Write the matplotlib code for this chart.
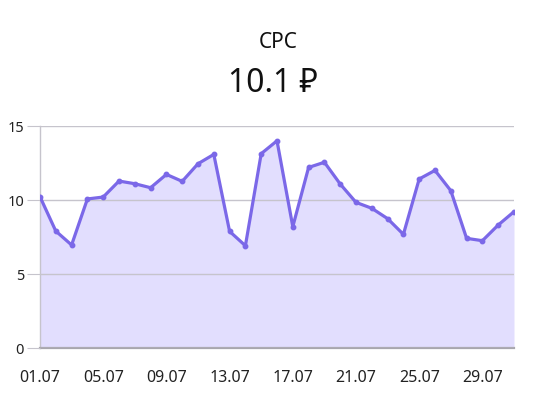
import matplotlib
matplotlib.use("Agg")
import matplotlib.pyplot as plt

days = [f"{d:02d}.07" for d in range(1, 32)]
values = [10.22, 7.9, 6.96, 10.07, 10.2, 11.28, 11.1, 10.83, 11.73, 11.26,
          12.45, 13.08, 7.88, 6.91, 13.13, 14.0, 8.2, 12.2, 12.55, 11.08,
          9.84, 9.44, 8.74, 7.68, 11.42, 12.0, 10.63, 7.41, 7.25, 8.31, 9.21]
yticks = [0, 5, 10, 15]
title = "CPC"
subtitle = "10.1 ₽"

plt.rcParams['font.family'] = ['Noto Sans', 'DejaVu Sans']

fig = plt.figure(figsize=(5.58, 4.08), dpi=100)
ax = fig.add_axes([40/558, 1-348/408, (514-40)/558, (348-126)/408])

x = list(range(len(values)))
ax.fill_between(x, values, 0, color="#e2defe", linewidth=0, zorder=1)
ax.plot(x, values, color="#7b68e8", linewidth=2.3, marker="o", markersize=3.2,
        zorder=3, solid_joinstyle="round")

ax.set_xlim(0, len(values)-1)
ax.set_ylim(0, 15)
ax.set_yticks(yticks)
ax.set_yticklabels([str(t) for t in yticks], fontsize=10.5)
ax.set_xticks(x[::4])
ax.set_xticklabels(days[::4], fontsize=11.5)
ax.grid(axis="y", color="#c6c4cc", linewidth=1, zorder=2)
ax.set_axisbelow(False)
for s in ["top", "right"]:
    ax.spines[s].set_visible(False)
ax.spines["left"].set_color("#c6c4cc")
ax.spines["left"].set_linewidth(1)
ax.spines["bottom"].set_color("#a8a6ae")
ax.spines["bottom"].set_linewidth(1.6)
ax.tick_params(axis="y", length=9.5, color="#c6c4cc", pad=2, labelcolor="#222222")
ax.tick_params(axis="x", length=0, pad=16, labelcolor="#222222")

fig.text(278/558, 1-42/408, title, ha="center", va="center", fontsize=15, color="#111111")
fig.text(273/558, 1-84/408, subtitle, ha="center", va="center", fontsize=23, color="#111111")

fig.savefig("out.png", dpi=100)
